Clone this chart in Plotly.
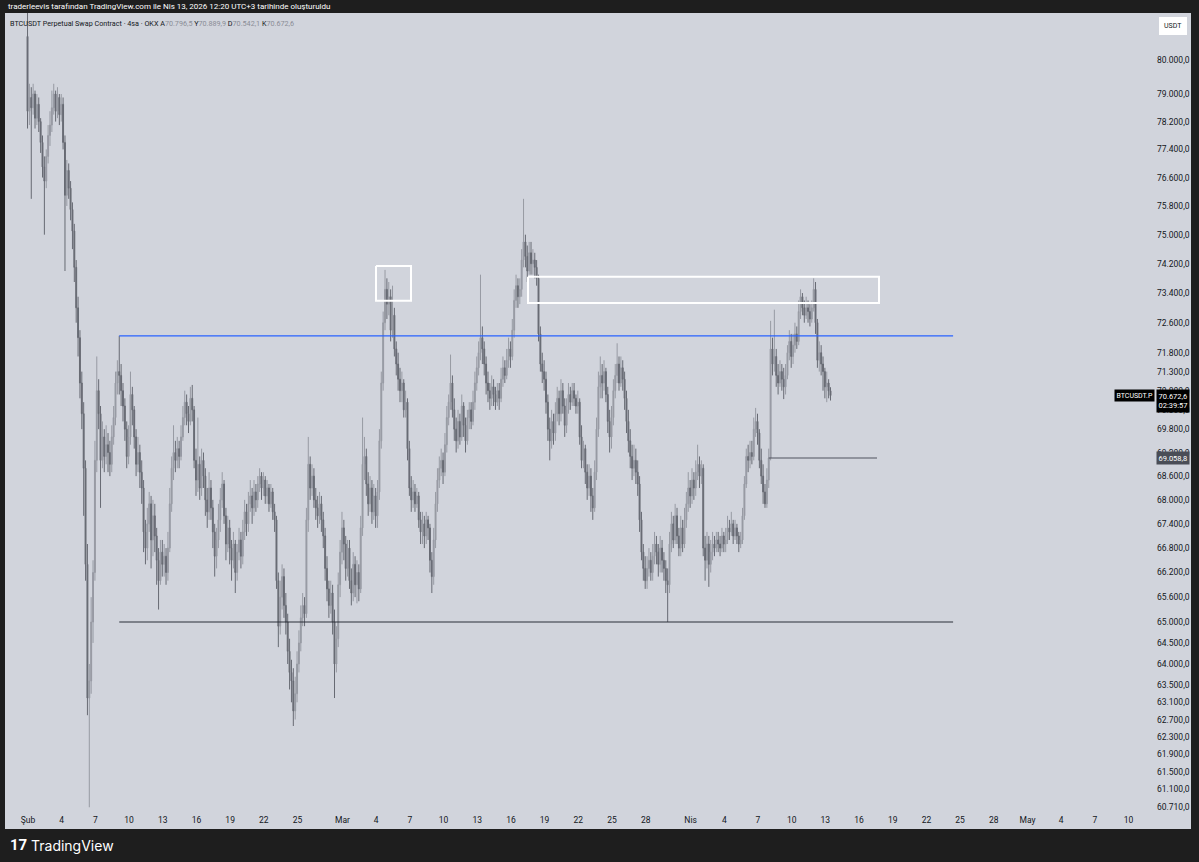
import numpy as np
import pandas as pd
import plotly.graph_objects as go

# ---------------- DATA (BTCUSDT.P, OKX, 4h, local UTC+3) ----------------
first_open = 80700
closes = [
    78500,
    78900, 78600, 79000, 78300, 78700, 78200,  # Feb 1
    77600, 76900, 76500, 77200, 77800, 78100,  # Feb 2
    78600, 79000, 78500, 78900, 78400, 78700,  # Feb 3
    77600, 76100, 76800, 76300, 75700, 75100,  # Feb 4
    74100, 73000, 72200, 71000, 70200, 68800,  # Feb 5
    66400, 63200, 63600, 65000, 66200, 69000,  # Feb 6
    70800, 70200, 69000, 69600, 69100, 69400,  # Feb 7
    69200, 68900, 69600, 70100, 71000, 71300,  # Feb 8
    71200, 70800, 70400, 69800, 69100, 69600,  # Feb 9
    70700, 70300, 69600, 68900, 69200, 68700,  # Feb 10
    68300, 67200, 66800, 67400, 67900, 67000,  # Feb 11
    67600, 67100, 66500, 66000, 66700, 66400,  # Feb 12
    66600, 66200, 66800, 67900, 68800, 69200,  # Feb 13
    69000, 69300, 69100, 69600, 70100, 70500,  # Feb 14
    70200, 70000, 70600, 70300, 69000, 68500,  # Feb 15
    68900, 68300, 69000, 68600, 68000, 67700,  # Feb 16
    68300, 67800, 67200, 66600, 67000, 67500,  # Feb 17
    68000, 68400, 67600, 66900, 67300, 66800,  # Feb 18
    66500, 66900, 66200, 66700, 67000, 66600,  # Feb 19
    67200, 67700, 67400, 67900, 68100, 67800,  # Feb 20
    68200, 68000, 68400, 68600, 68300, 68500,  # Feb 21
    68100, 68300, 67900, 68200, 67700, 67500,  # Feb 22
    66000, 64900, 65600, 66100, 65400, 65000,  # Feb 23
    64300, 63800, 63600, 62900, 63300, 64000,  # Feb 24
    64500, 65100, 65400, 65200, 67500, 68900,  # Feb 25
    68300, 68600, 68000, 67800, 67600, 67900,  # Feb 26
    67500, 67100, 66300, 65800, 65400, 65700,  # Feb 27
    65000, 64000, 64600, 65900, 66700, 67300,  # Feb 28
    66900, 66300, 66800, 66000, 65700, 66400,  # Mar 1
    65900, 66200, 65800, 67300, 68900, 69100,  # Mar 2
    68400, 67900, 68300, 67700, 68100, 67600,  # Mar 3
    68200, 69500, 71000, 72600, 73500, 73100,  # Mar 4
    73300, 72400, 72800, 71900, 71500, 71100,  # Mar 5
    70800, 71000, 70300, 70500, 69300, 68300,  # Mar 6
    68000, 68200, 67900, 68100, 67500, 67200,  # Mar 7
    67400, 67100, 67500, 67300, 66500, 66100,  # Mar 8
    67000, 67900, 68500, 68800, 69000, 68700,  # Mar 9
    69400, 70100, 70500, 71000, 70300, 69800,  # Mar 10
    69500, 70000, 69600, 70400, 69900, 69500,  # Mar 11
    70100, 70300, 70000, 70500, 71000, 71400,  # Mar 12
    71800, 72200, 71900, 71500, 71000, 70800,  # Mar 13
    70600, 70900, 70700, 70500, 70800, 70600,  # Mar 14
    71100, 71400, 71200, 71600, 71900, 71700,  # Mar 15
    72400, 73200, 73600, 73300, 73500, 74300,  # Mar 16
    74800, 74400, 74000, 74500, 74200, 74300,  # Mar 17
    74100, 73800, 72300, 71500, 71300, 71100,  # Mar 18
    70500, 69800, 69500, 70000, 69700, 70200,  # Mar 19
    70600, 70200, 70800, 70400, 69900, 70300,  # Mar 20
    70700, 70500, 70800, 70600, 70400, 70500,  # Mar 21
    69600, 69000, 69300, 68700, 68300, 68600,  # Mar 22
    68100, 67800, 68700, 69800, 70900, 71200,  # Mar 23
    71000, 71300, 70700, 70000, 69600, 70100,  # Mar 24
    70800, 71200, 71500, 71000, 71400, 71100,  # Mar 25
    70600, 70000, 69500, 69100, 68800, 69000,  # Mar 26
    68700, 68400, 67500, 66700, 66300, 66000,  # Mar 27
    66300, 66500, 66200, 66600, 66900, 66700,  # Mar 28
    66400, 66800, 66500, 66300, 66000, 65900,  # Mar 29
    66900, 67400, 67000, 67600, 67100, 66800,  # Mar 30
    67300, 66900, 67500, 67900, 68300, 68100,  # Mar 31
    68500, 68300, 68700, 68900, 68600, 68800,  # Apr 1
    66800, 66500, 66900, 66400, 66700, 66900,  # Apr 2
    66800, 67000, 66900, 66800, 67100, 66900,  # Apr 3
    67000, 67300, 67200, 67400, 67100, 67300,  # Apr 4
    67100, 66900, 67000, 67600, 68400, 69100,  # Apr 5
    69000, 69200, 69100, 69800, 70000, 69700,  # Apr 6
    69000, 68600, 68200, 67900, 68500, 69058.8,  # Apr 7
    71900, 71500, 71700, 71200, 71000, 71300,  # Apr 8
    71100, 70900, 71200, 71800, 72100, 71700,  # Apr 9
    72000, 72300, 72100, 72900, 73300, 73000,  # Apr 10
    72800, 73000, 72900, 72700, 73000, 73500,  # Apr 11
    72600, 71600, 71800, 71500, 71300, 70900,  # Apr 12
    71000, 70796.5, 70672.6,                   # Apr 13
]
highs = [
    81500,
    79300, 79200, 79300, 79100, 79000, 78900,
    78300, 77800, 77200, 77400, 78100, 78500,
    79100, 79300, 79100, 79200, 79000, 79000,
    78900, 77800, 77100, 77000, 76500, 75900,
    75300, 74300, 73300, 72400, 71300, 70500,
    69000, 66900, 64000, 65600, 66500, 69500,
    71700, 71100, 70400, 70000, 69800, 69900,
    69700, 69500, 69900, 70400, 71300, 71600,
    72250, 71500, 71000, 70600, 70000, 69900,
    71300, 70900, 70400, 69800, 69600, 69400,
    69000, 68500, 67500, 67800, 68200, 68100,
    68000, 67900, 67300, 66800, 67000, 67000,
    66900, 66800, 67200, 68300, 69100, 69900,
    69500, 69600, 69500, 69900, 70400, 70800,
    70700, 70400, 70900, 70950, 70400, 69300,
    70100, 69100, 69300, 69200, 68800, 68300,
    68700, 68500, 68000, 67400, 67300, 67900,
    68300, 68700, 68500, 67800, 67600, 67500,
    67000, 67200, 67000, 66900, 67300, 67200,
    67500, 68000, 67900, 68200, 68500, 68300,
    68500, 68400, 68600, 68800, 68700, 68700,
    68600, 68500, 68400, 68400, 68300, 67900,
    67600, 66200, 66000, 66400, 66300, 65700,
    65200, 64600, 64100, 63900, 63700, 64300,
    64800, 65400, 65700, 65600, 67800, 69600,
    69100, 68900, 68800, 68300, 68100, 68200,
    68100, 67700, 67300, 66600, 66000, 66000,
    65900, 65300, 64900, 66200, 67000, 67700,
    67500, 67100, 67000, 67000, 66300, 66700,
    66600, 66500, 66400, 67600, 70100, 69600,
    69300, 68700, 68600, 68500, 68400, 68300,
    68500, 69800, 71300, 72900, 74030, 73800,
    73700, 73500, 73600, 73000, 72100, 71800,
    71400, 71300, 71100, 70800, 70600, 69500,
    68600, 68500, 68400, 68300, 68200, 67700,
    67700, 67600, 67700, 67600, 67400, 66700,
    67300, 68200, 68800, 69100, 69300, 69200,
    69700, 70400, 70700, 71750, 71200, 70600,
    70100, 70300, 70200, 70700, 70500, 70100,
    70300, 70500, 70500, 70800, 71300, 71700,
    72100, 73900, 72500, 72100, 71700, 71300,
    71000, 71200, 71100, 70900, 71000, 71000,
    71400, 71700, 71600, 71900, 72200, 72100,
    72700, 73500, 73900, 73800, 73800, 74600,
    76000, 75000, 74700, 74800, 74800, 74600,
    74500, 74300, 73900, 72500, 71800, 71600,
    71300, 70700, 70100, 70300, 70200, 70500,
    70900, 70800, 71100, 71000, 70600, 70600,
    71000, 70900, 71000, 71000, 70700, 70800,
    70600, 69900, 69500, 69400, 68900, 68900,
    68800, 68300, 69000, 70100, 71300, 71700,
    71500, 71600, 71400, 70900, 70300, 70400,
    71100, 71500, 72050, 71700, 71700, 71600,
    71300, 70800, 70300, 69800, 69400, 69400,
    69300, 69000, 68600, 67700, 66900, 66600,
    66600, 66800, 66700, 66900, 67200, 67100,
    66900, 67100, 67000, 66700, 66500, 66300,
    67200, 67700, 67600, 67900, 67800, 67300,
    67600, 67500, 67800, 68200, 68700, 68500,
    68800, 68700, 69000, 69400, 69100, 69000,
    68900, 67100, 67200, 67100, 67000, 67200,
    67100, 67200, 67200, 67100, 67300, 67200,
    67300, 67600, 67500, 67700, 67500, 67500,
    67400, 67200, 67200, 67800, 68600, 69300,
    69400, 69500, 69500, 70100, 70350, 70200,
    69800, 69300, 68900, 68400, 68800, 69300,
    72650, 72200, 72950, 71900, 71500, 71600,
    71500, 71400, 71500, 72000, 72400, 72300,
    72300, 72600, 72500, 73200, 73500, 73400,
    73200, 73300, 73200, 73100, 73200, 73800,
    73700, 72700, 72100, 72000, 71700, 71400,
    71300, 71100, 70889.9,
]
lows = [
    78000,
    78100, 76000, 78400, 78000, 78100, 77900,
    77300, 76600, 75000, 76300, 77000, 77500,
    77900, 78400, 78200, 78300, 78100, 78200,
    77400, 74000, 75800, 76000, 75400, 74600,
    73700, 72600, 71700, 70600, 69800, 67600,
    66000, 62800, 60700, 63300, 64500, 66000,
    68700, 69800, 67800, 68800, 68700, 68900,
    68700, 68600, 68700, 69400, 69900, 70700,
    70700, 70400, 70000, 69500, 68800, 68900,
    69400, 69900, 69300, 68600, 68700, 68300,
    67900, 66700, 66400, 66500, 67200, 66300,
    66600, 66700, 65900, 65300, 65900, 66100,
    66100, 65900, 66000, 66700, 67700, 68500,
    68700, 68800, 68800, 69000, 69500, 69900,
    69900, 69700, 69900, 70000, 68800, 68100,
    68200, 68000, 68100, 68300, 67600, 67300,
    67500, 67500, 66800, 66100, 66300, 66800,
    67200, 67800, 67400, 66500, 66700, 66400,
    66000, 66300, 65700, 66000, 66500, 66300,
    66400, 67000, 67100, 67200, 67700, 67400,
    67600, 67700, 67800, 68200, 68000, 68100,
    67900, 67900, 67700, 67800, 67500, 67200,
    65800, 64400, 64700, 65300, 65100, 64700,
    64000, 63400, 63100, 62550, 62700, 63100,
    63800, 64300, 64900, 64900, 65100, 67200,
    68000, 68100, 67800, 67500, 67300, 67400,
    67200, 66800, 66000, 65500, 65100, 65200,
    64700, 63200, 63800, 64400, 65600, 66400,
    66500, 66000, 66100, 65800, 65400, 65500,
    65600, 65450, 65500, 65700, 67100, 68500,
    68100, 67600, 67700, 67400, 67500, 67300,
    67300, 68000, 69300, 70800, 72400, 72700,
    72800, 72100, 72200, 71700, 71200, 70800,
    70500, 70500, 70100, 70100, 69000, 68100,
    67700, 67800, 67700, 67800, 67300, 66900,
    66900, 66800, 66900, 67000, 66200, 65700,
    65900, 66800, 67700, 68300, 68600, 68400,
    68600, 69200, 69900, 70300, 70100, 69500,
    69200, 69300, 69400, 69500, 69600, 69200,
    69400, 69800, 69800, 69900, 70300, 70800,
    71200, 71600, 71500, 71200, 70700, 70500,
    70300, 70400, 70400, 70300, 70400, 70300,
    70500, 70900, 71000, 71100, 71400, 71400,
    71600, 72200, 73000, 73000, 73100, 73300,
    74100, 74100, 73700, 73900, 73900, 73900,
    73800, 73600, 72100, 71300, 71000, 70800,
    70200, 69500, 69000, 69300, 69400, 69500,
    70000, 69900, 70000, 70200, 69600, 69700,
    70200, 70300, 70400, 70400, 70200, 70200,
    69400, 68800, 68800, 68400, 68000, 68100,
    67700, 67500, 67700, 68500, 69600, 70600,
    70600, 70800, 70500, 69700, 69200, 69300,
    69900, 70600, 71000, 70800, 70900, 70800,
    70300, 69700, 69200, 68800, 68500, 68600,
    68400, 68100, 67200, 66500, 66000, 65800,
    65800, 66100, 66000, 66000, 66400, 66400,
    66100, 66200, 66200, 66000, 65700, 65000,
    65700, 66700, 66800, 66900, 66900, 66600,
    66600, 66700, 66800, 67300, 67700, 67800,
    67900, 68000, 68100, 68500, 68300, 68400,
    66600, 66000, 66300, 65850, 66200, 66500,
    66600, 66700, 66700, 66600, 66700, 66700,
    66700, 66900, 67000, 67100, 66900, 67000,
    66900, 66700, 66800, 66900, 67500, 68300,
    68700, 68800, 68900, 69000, 69600, 69400,
    68800, 68400, 67900, 67800, 67800, 68300,
    69000, 71200, 71300, 70900, 70700, 70900,
    70800, 70580, 70700, 71100, 71600, 71400,
    71500, 71800, 71900, 72000, 72700, 72800,
    72600, 72700, 72600, 72500, 72600, 72900,
    72300, 71400, 71300, 71200, 70800, 70600,
    70500, 70600, 70542.1,
]
opens = [first_open] + closes[:-1]
times = pd.date_range("2026-01-31 23:00", periods=len(closes), freq="4h")

# axis ticks
y_tick_vals = [80000, 79000, 78200, 77400, 76600, 75800, 75000, 74200, 73400, 72600,
               71800, 71300, 70800, 70300, 69800, 69200, 68600, 68000, 67400, 66800,
               66200, 65600, 65000, 64500, 64000, 63500, 63100, 62700, 62300, 61900,
               61500, 61100, 60710]
x_tick_dates = ["2026-02-01", "2026-02-04", "2026-02-07", "2026-02-10", "2026-02-13",
                "2026-02-16", "2026-02-19", "2026-02-22", "2026-02-25", "2026-03-01",
                "2026-03-04", "2026-03-07", "2026-03-10", "2026-03-13", "2026-03-16",
                "2026-03-19", "2026-03-22", "2026-03-25", "2026-03-28", "2026-04-01",
                "2026-04-04", "2026-04-07", "2026-04-10", "2026-04-13", "2026-04-16",
                "2026-04-19", "2026-04-22", "2026-04-25", "2026-04-28", "2026-05-01",
                "2026-05-04", "2026-05-07", "2026-05-10"]
x_tick_text = ["Şub", "4", "7", "10", "13", "16", "19", "22", "25", "Mar", "4", "7", "10",
               "13", "16", "19", "22", "25", "28", "Nis", "4", "7", "10", "13", "16", "19",
               "22", "25", "28", "May", "4", "7", "10"]

# drawings (price levels and zones)
resistance_level = 72250
support_level = 65000
level_start, level_end = "2026-02-09 03:00", "2026-04-24 09:00"
ray_level = 69058.8
ray_start, ray_end = "2026-04-07 23:00", "2026-04-17 14:30"
zone1_top, zone1_bottom = 74140, 73190
zone1_start, zone1_end = "2026-03-03 23:45", "2026-03-07 02:30"
zone2_top, zone2_bottom = 73840, 73130
zone2_start, zone2_end = "2026-03-17 12:30", "2026-04-17 18:40"

last_price = 70672.6
countdown = "02:39:57"


def fmt_tr(v):
    s = f"{v:,.1f}"
    return s.replace(",", "X").replace(".", ",").replace("X", ".")


# ---------------- FIGURE ----------------
W, H = 1199, 862
ML, MR, MT, MB = 5, 52, 13, 50
PW, PH = W - ML - MR, H - MT - MB
BG = "#d1d4dc"
DARK = "#1e1e1e"
FONT = "Roboto, 'DejaVu Sans', sans-serif"


def px_x(px):
    return (px - ML) / PW


def px_y(py):
    return (H - MB - py) / PH


fig = go.Figure()

fig.add_trace(go.Candlestick(
    x=times, open=opens, high=highs, low=lows, close=closes,
    increasing=dict(line=dict(color="#979aa3", width=1), fillcolor="#979aa3"),
    decreasing=dict(line=dict(color="#676a73", width=1), fillcolor="#676a73"),
    whiskerwidth=0, showlegend=False, hoverinfo="skip",
))

# horizontal levels
fig.add_trace(go.Scatter(x=[level_start, level_end], y=[resistance_level] * 2, mode="lines",
                         line=dict(color="#2962ff", width=1.3), showlegend=False, hoverinfo="skip"))
fig.add_trace(go.Scatter(x=[level_start, level_end], y=[support_level] * 2, mode="lines",
                         line=dict(color="#2a2e39", width=1.1), showlegend=False, hoverinfo="skip"))
fig.add_trace(go.Scatter(x=[ray_start, ray_end], y=[ray_level] * 2, mode="lines",
                         line=dict(color="#50535e", width=1.1), showlegend=False, hoverinfo="skip"))
# zones
for (x0, x1, yt, yb) in [(zone1_start, zone1_end, zone1_top, zone1_bottom),
                         (zone2_start, zone2_end, zone2_top, zone2_bottom)]:
    fig.add_trace(go.Scatter(x=[x0, x1, x1, x0, x0], y=[yt, yt, yb, yb, yt], mode="lines",
                             line=dict(color="#ffffff", width=2), showlegend=False,
                             hoverinfo="skip"))

y_lo, y_hi = 60594, 81401
x_lo, x_hi = "2026-01-29 22:51", "2026-05-11 15:22"

fig.update_layout(
    width=W, height=H, autosize=False,
    margin=dict(l=ML, r=MR, t=MT, b=MB),
    paper_bgcolor=DARK, plot_bgcolor=BG,
    font=dict(family=FONT, size=9, color="#131722"),
    xaxis=dict(type="date", range=[x_lo, x_hi], rangeslider=dict(visible=False),
               showgrid=False, zeroline=False, showline=False, ticks="",
               tickmode="array", tickvals=x_tick_dates, ticktext=x_tick_text,
               tickfont=dict(size=8.5, color="#131722", family=FONT), ticklabelstandoff=1),
    yaxis=dict(type="log", range=[np.log10(y_lo), np.log10(y_hi)], side="right",
               showgrid=False, zeroline=False, showline=False, ticks="",
               tickmode="array", tickvals=y_tick_vals,
               ticktext=[fmt_tr(v) for v in y_tick_vals],
               tickfont=dict(size=8.5, color="#131722", family=FONT), ticklabelstandoff=9),
    shapes=[
        dict(type="rect", xref="paper", yref="paper", x0=px_x(ML), x1=px_x(1191),
             y0=px_y(829), y1=px_y(13), fillcolor=BG, line=dict(width=0), layer="below"),
    ],
)

ann = []
# header
ann.append(dict(xref="paper", yref="paper", x=px_x(6), y=px_y(6.5), xanchor="left", yanchor="middle",
                text="traderleevis tarafından TradingView.com ile Nis 13, 2026 12:20 UTC+3 tarihinde oluşturuldu",
                showarrow=False, font=dict(size=8, color="#ffffff", family=FONT)))
# legend line
legend = ("BTCUSDT Perpetual Swap Contract · 4sa · OKX "
          "A<span style='color:#8a8d96'>70.796,5</span> "
          "Y<span style='color:#8a8d96'>70.889,9</span> "
          "D<span style='color:#8a8d96'>70.542,1</span> "
          "K<span style='color:#8a8d96'>70.672,6</span>")
ann.append(dict(xref="paper", yref="paper", x=px_x(8), y=px_y(23), xanchor="left", yanchor="middle",
                text=legend, showarrow=False, font=dict(size=7.2, color="#131722", family=FONT)))
# USDT box
ann.append(dict(xref="paper", yref="paper", x=px_x(1173), y=px_y(25.5), xanchor="center",
                yanchor="middle", text="USDT", showarrow=False, bgcolor="#ffffff",
                bordercolor="#ffffff", borderpad=4, font=dict(size=7, color="#131722", family=FONT)))
# last price labels
ann.append(dict(xref="paper", yref="y", x=px_x(1156), y=np.log10(last_price) - 0.0008,
                xanchor="left", yanchor="middle",
                text=fmt_tr(last_price) + "<br>" + countdown, showarrow=False,
                bgcolor="#000000", borderpad=1.5, align="left",
                font=dict(size=7.5, color="#ffffff", family=FONT)))
ann.append(dict(xref="paper", yref="y", x=px_x(1155), y=np.log10(last_price),
                xanchor="right", yanchor="middle", text="BTCUSDT.P", showarrow=False,
                bgcolor="#000000", borderpad=1.5, font=dict(size=7, color="#ffffff", family=FONT)))
ann.append(dict(xref="paper", yref="y", x=px_x(1156), y=np.log10(ray_level),
                xanchor="left", yanchor="middle", text=fmt_tr(ray_level), showarrow=False,
                bgcolor="#4a4d56", borderpad=1.5, font=dict(size=7.5, color="#ffffff", family=FONT)))
# footer logo
ann.append(dict(xref="paper", yref="paper", x=px_x(8), y=px_y(845), xanchor="left", yanchor="middle",
                text="<b>17</b>", showarrow=False, font=dict(size=15, color="#ffffff", family=FONT)))
ann.append(dict(xref="paper", yref="paper", x=px_x(29), y=px_y(845), xanchor="left", yanchor="middle",
                text="TradingView", showarrow=False,
                font=dict(size=14, color="#ffffff", family="Inter, Roboto, sans-serif")))
fig.update_layout(annotations=ann)

fig.write_html("out.html", config={"displayModeBar": False},
               post_script="document.body.style.margin='0';document.body.style.overflow='hidden';")
